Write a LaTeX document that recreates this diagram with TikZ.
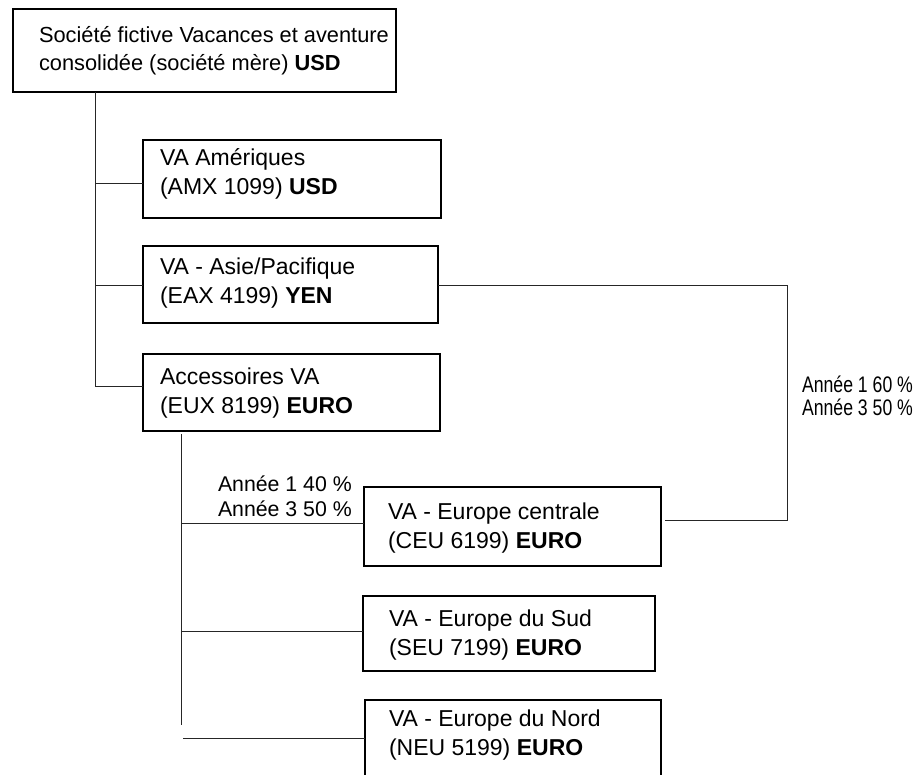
\documentclass[tikz,border=0pt]{standalone}
\usepackage{fontspec}
\setmainfont{Liberation Sans}
\usepackage{graphicx}
\usetikzlibrary{calc}
\newcommand{\strutA}{\rule{0pt}{0.78em}}
\tikzset{
  box/.style={draw, line width=1.2pt, inner sep=0pt, outer sep=0pt, anchor=north west},
  txt/.style={inner sep=0pt, outer sep=0pt, anchor=north west, align=left, font=\fontsize{23}{29}\selectfont},
  toptxt/.style={txt, font=\fontsize{21.8}{28}\selectfont},
  lblL/.style={inner sep=0pt, outer sep=0pt, anchor=north west, align=left, font=\fontsize{21.3}{25}\selectfont},
  lblR/.style={inner sep=0pt, outer sep=0pt, anchor=north west, align=left, font=\fontsize{22.5}{22.5}\selectfont},
  conn/.style={line width=1pt, draw=black!85}
}
\begin{document}
\begin{tikzpicture}[x=1pt,y=-1pt]
\useasboundingbox (0,0) rectangle (913,774);
% boxes
\node[box, minimum width=383pt, minimum height=83pt] (top) at (13,9) {};
\node[box, minimum width=298pt, minimum height=78pt] (amx) at (143,140) {};
\node[box, minimum width=295pt, minimum height=77pt] (eax) at (143,246) {};
\node[box, minimum width=297pt, minimum height=77pt] (eux) at (143,354) {};
\node[box, minimum width=297pt, minimum height=79pt] (ceu) at (364,487) {};
\node[box, minimum width=292pt, minimum height=75pt] (seu) at (363,596) {};
\node[box, minimum width=296pt, minimum height=110pt] (neu) at (365,700) {};
% texts
\node[toptxt] (topt) at (39,25) {\strutA Société fictive Vacances et aventure\\consolidée (société mère) \textbf{USD}};
\node[txt] (amxt) at (160,148) {\strutA VA Amériques\\(AMX 1099) \textbf{USD}};
\node[txt] (eaxt) at (160,257) {\strutA VA - Asie/Pacifique\\(EAX 4199) \textbf{YEN}};
\node[txt] (euxt) at (160,367) {\strutA Accessoires VA\\(EUX 8199) \textbf{EURO}};
\node[txt] (ceut) at (388,502) {\strutA VA - Europe centrale\\(CEU 6199) \textbf{EURO}};
\node[txt] (seut) at (389,609) {\strutA VA - Europe du Sud\\(SEU 7199) \textbf{EURO}};
\node[txt] (neut) at (389,709) {\strutA VA - Europe du Nord\\(NEU 5199) \textbf{EURO}};
% labels
\node[lblL] (pctL) at (218,475) {\strutA Année 1 40 \%\\Année 3 50 \%};
\node[lblR] (pctR) at (802,375) {\scalebox{0.785}[1]{\strutA Année 1 60 \%}\\\scalebox{0.785}[1]{Année 3 50 \%}};
% main trunk
\coordinate (j1) at (95,183);
\coordinate (j2) at (95,285);
\coordinate (j3) at (95,386);
\draw[conn] (top.south -| j1) -- (j3);
\draw[conn] (j1) -- (j1 -| amx.west);
\draw[conn] (j2) -- (j2 -| eax.west);
\draw[conn] (j3) -- (j3 -| eux.west);
% sub trunk
\coordinate (k0) at (181,434);
\coordinate (k1) at (181,523);
\coordinate (k2) at (181,631);
\coordinate (k3) at (181,725);
\coordinate (k4) at (183,738);
\draw[conn] (k0) -- (k3);
\draw[conn] (k1) -- (k1 -| ceu.west);
\draw[conn] (k2) -- (k2 -| seu.west);
\draw[conn] (k4) -- (k4 -| neu.west);
% right link
\coordinate (r1) at (787,285);
\coordinate (r2) at (787,520);
\coordinate (r3) at (665,520);
\draw[conn] (r1 -| eax.east) -- (r1) -- (r2) -- (r3);
\end{tikzpicture}
\end{document}
